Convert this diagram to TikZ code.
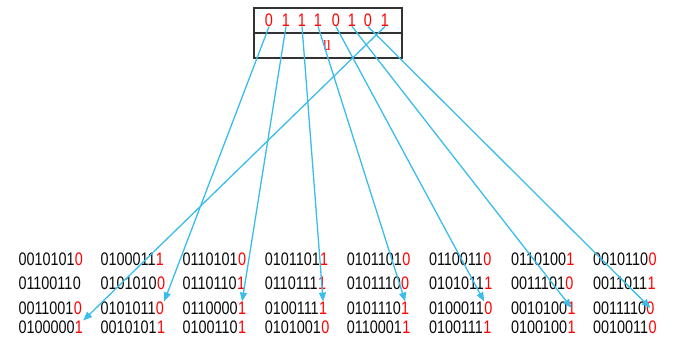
\documentclass[tikz,border=0pt]{standalone}
\usepackage{graphicx}
\usepackage{fontspec}
\setmainfont{Liberation Sans}
\newfontfamily\serifu{Liberation Serif}
\usetikzlibrary{arrows.meta}
\definecolor{arrowblue}{RGB}{59,189,236}
\definecolor{bitred}{RGB}{255,0,0}
\definecolor{boxgray}{RGB}{50,50,50}
\definecolor{digitblack}{RGB}{10,10,10}
\newcommand{\tallbits}[1]{\scalebox{1}[1.26]{#1}}
\tikzset{
  x=1pt, y=-1pt,
  pre/.style={anchor=west, inner sep=0pt, text=digitblack, font=\fontsize{14.4}{16}\selectfont},
  lastbit/.style={anchor=west, inner sep=0pt, font=\fontsize{14.4}{16}\selectfont},
  topbit/.style={inner sep=0pt, text=bitred, font=\fontsize{14.4}{16}\selectfont},
  link/.style={arrowblue, line width=1.3pt, -{Triangle[length=9pt,width=7pt]}},
  regbox/.style={draw=boxgray, line width=1.8pt, minimum width=148pt, minimum height=50pt, inner sep=0pt}
}
\begin{document}
\begin{tikzpicture}
\useasboundingbox (0,0) rectangle (683,341);
% register box
\node[regbox] (box) at (328,33) {};
\coordinate (divl) at (254,33.3);
\coordinate (divr) at (402,33.3);
\draw[boxgray, line width=1.8pt] (divl) -- (divr);
\node[text=bitred, inner sep=0pt, font=\serifu\fontsize{18}{20}\selectfont] (u) at (327,46) {\scalebox{0.8}[1.2]{u}};
% top bits
\foreach \bv/\xv [count=\i] in {0/269,1/286,1/302,1/318,0/336,1/352,0/368,1/385}
  \node[topbit] (b\i) at (\xv,20) {\tallbits{\bv}};
% table rows
\foreach \row/\yv in {1/259,2/283,3/308,4/327}{
  \ifcase\row\or
    \def\entries{0010101/0/bitred,0100011/1/bitred,0110101/0/bitred,0101101/1/bitred,0101101/0/bitred,0110011/0/bitred,0110100/1/bitred,0010110/0/bitred}\or
    \def\entries{0110011/0/digitblack,0101010/0/bitred,0110110/1/bitred,0110111/1/bitred,0101110/0/bitred,0101011/1/bitred,0011101/0/bitred,0011011/1/bitred}\or
    \def\entries{0011001/0/bitred,0101011/0/bitred,0110000/1/bitred,0100111/1/bitred,0101110/1/bitred,0100011/0/bitred,0010100/1/bitred,0011110/0/bitred}\or
    \def\entries{0100000/1/bitred,0010101/1/bitred,0100110/1/bitred,0101001/0/bitred,0110001/1/bitred,0100111/1/bitred,0100100/1/bitred,0010011/0/bitred}\fi
  \foreach \pv/\lv/\cv [count=\col] in \entries {
    \pgfmathsetmacro{\xs}{18.3+82.1*(\col-1)}
    \node[pre] (p\row\col) at (\xs,\yv) {\tallbits{\pv}};
    \node[lastbit, text=\cv] (d\row\col) at (p\row\col.east) {\tallbits{\lv}};
  }
}
% connectors
\draw[link] (b1.south) -- (d32.north east);
\draw[link] (b2.south) -- (d33.north);
\draw[link] (b3.south) -- (d34.north);
\draw[link] (b4.south) -- (d35.north);
\draw[link] (b5.south) -- (d36.north west);
\draw[link] (b6.south) -- (d37.center);
\draw[link] (b7.south) -- (d38.center);
\draw[link] (b8.south) -- (d41.north east);
\end{tikzpicture}
\end{document}
